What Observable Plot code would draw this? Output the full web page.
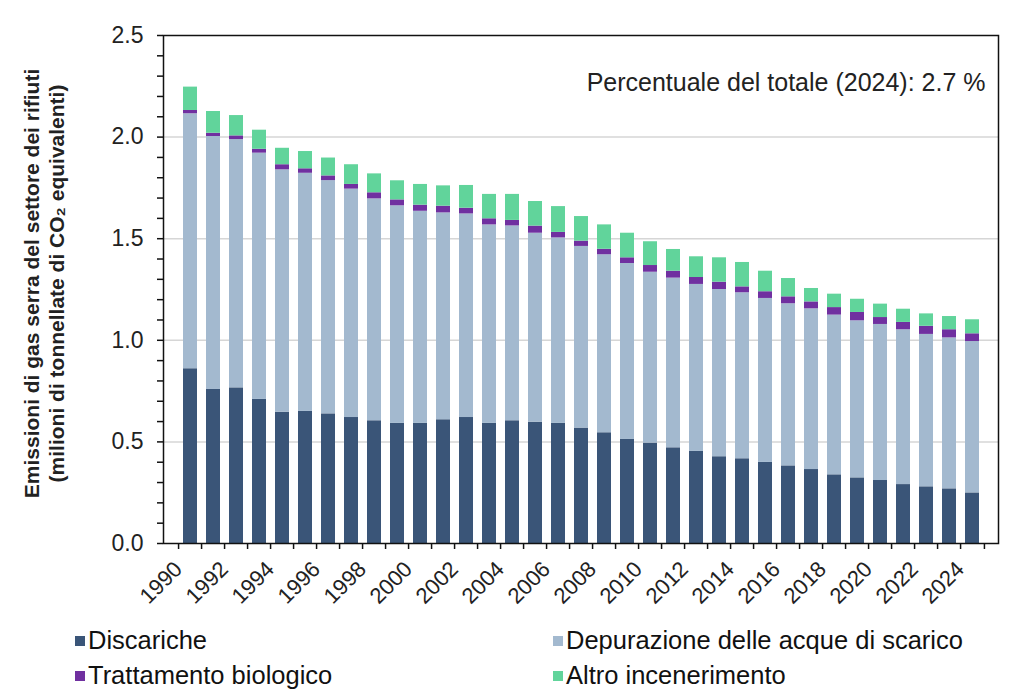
<!DOCTYPE html>
<html><head><meta charset="utf-8">
<script src="https://cdn.jsdelivr.net/npm/d3@7"></script>
<script src="https://cdn.jsdelivr.net/npm/@observablehq/plot@0.6"></script>
<style>
body{margin:0;background:#fff;font-family:"Liberation Sans",Arial,sans-serif;}
#wrap{position:relative;width:1024px;height:697px;overflow:hidden;}
.leg{position:absolute;font-size:25.5px;color:#111;display:flex;align-items:center;white-space:nowrap;line-height:1;}
.sw{width:10px;height:10px;margin-right:3px;display:inline-block;}
</style></head><body><div id="wrap"></div>
<script>
const years = [1990,1991,1992,1993,1994,1995,1996,1997,1998,1999,2000,2001,2002,2003,2004,2005,2006,2007,2008,2009,2010,2011,2012,2013,2014,2015,2016,2017,2018,2019,2020,2021,2022,2023,2024];
const categories = ["Discariche","Depurazione delle acque di scarico","Trattamento biologico","Altro incenerimento"];
const colors = ["#3a5578","#a3b9cf","#7030a0","#61d49b"];
const discariche = [0.860,0.758,0.766,0.709,0.646,0.650,0.638,0.620,0.604,0.591,0.591,0.609,0.620,0.591,0.604,0.597,0.591,0.568,0.545,0.512,0.494,0.471,0.453,0.427,0.417,0.399,0.382,0.364,0.338,0.323,0.310,0.290,0.279,0.269,0.249];
const depurazione = [1.255,1.245,1.222,1.212,1.193,1.172,1.148,1.124,1.092,1.071,1.044,1.018,1.002,0.977,0.959,0.930,0.913,0.894,0.876,0.866,0.841,0.835,0.822,0.823,0.817,0.807,0.798,0.791,0.786,0.773,0.768,0.762,0.750,0.743,0.745];
const trattamento = [0.016,0.016,0.018,0.019,0.025,0.022,0.023,0.023,0.030,0.029,0.030,0.033,0.028,0.030,0.027,0.035,0.027,0.026,0.027,0.028,0.033,0.034,0.034,0.036,0.029,0.033,0.034,0.034,0.037,0.041,0.034,0.036,0.040,0.040,0.038];
const altro = [0.115,0.107,0.100,0.094,0.081,0.085,0.088,0.097,0.093,0.094,0.102,0.100,0.112,0.120,0.128,0.121,0.127,0.121,0.120,0.121,0.117,0.107,0.102,0.120,0.120,0.101,0.090,0.066,0.066,0.065,0.066,0.065,0.061,0.065,0.069];
const yMajor = [0,0.5,1,1.5,2,2.5];
const yMinor = [0,0.1,0.2,0.3,0.4,0.5,0.6,0.7,0.8,0.9,1,1.1,1.2,1.3,1.4,1.5,1.6,1.7,1.8,1.9,2,2.1,2.2,2.3,2.4,2.5];
const xLabels = [1990,1992,1994,1996,1998,2000,2002,2004,2006,2008,2010,2012,2014,2016,2018,2020,2022,2024];
const yTitle1 = "Emissioni di gas serra del settore dei rifiuti";
const yTitle2 = "(milioni di tonnellate di CO₂ equivalenti)";
const note = "Percentuale del totale (2024): 2.7 %";

const series = [discariche, depurazione, trattamento, altro];
const data = [];
years.forEach((yr, i) => categories.forEach((c, k) => data.push({year: yr, cat: c, value: series[k][i]})));

const W = 1024, H = 615, ML = 163, MR = 26, MT = 35, MB = 72;
const step = (W - ML - MR) / years.length;

const chart = Plot.plot({
  width: W, height: H, marginLeft: ML, marginRight: MR, marginTop: MT, marginBottom: MB,
  style: {fontFamily: "'Liberation Sans', Arial, sans-serif", fontSize: "23px", color: "#222", background: "#fff"},
  x: {type: "band", domain: years, paddingInner: 0.4, paddingOuter: 0.2, axis: null},
  y: {domain: [0, 2.5], axis: null},
  color: {domain: categories, range: colors},
  marks: [
    Plot.gridY(yMajor.filter(d => d > 0 && d < 2.5), {stroke: "#d6d6d6", strokeOpacity: 1, strokeWidth: 1.5}),
    Plot.barY(data, {x: "year", y: "value", fill: "cat", order: categories}),
    Plot.frame({stroke: "#111", strokeWidth: 1.5}),
    Plot.axisY(yMinor, {label: null, tickSize: 6, tickPadding: 14, strokeWidth: 1.5, stroke: "#111", tickFormat: d => (Math.round(d * 10) % 5 === 0 ? d3.format(".1f")(d) : ""), fill: "#222"}),
    Plot.axisX(years, {label: null, tickSize: 6, text: null, dx: -step / 2, stroke: "#111", strokeWidth: 1.5}),
    Plot.axisX([years[years.length - 1]], {label: null, tickSize: 6, text: null, dx: step / 2, stroke: "#111", strokeWidth: 1.5}),
    Plot.axisX(xLabels, {label: null, tickSize: 0, tickPadding: 22, dx: -12, tickRotate: -45, fontSize: 22, tickFormat: d => String(d), fill: "#222"}),
    Plot.text([note], {frameAnchor: "top-right", textAnchor: "end", dx: -13, dy: 38, fontSize: 25, fill: "#222"}),
    Plot.text([yTitle1], {frameAnchor: "left", textAnchor: "middle", rotate: -90, dx: -131, dy: -6, fontSize: 21, fontWeight: "bold", fill: "#222"}),
    Plot.text([yTitle2], {frameAnchor: "left", textAnchor: "middle", rotate: -90, dx: -106, dy: -6, fontSize: 21, fontWeight: "bold", fill: "#222"})
  ]
});

const wrap = document.getElementById("wrap");
wrap.appendChild(chart);

const legPos = [[75, 641], [553, 641], [75, 676], [553, 676]];
categories.forEach((c, k) => {
  const d = document.createElement("div");
  d.className = "leg";
  d.style.left = legPos[k][0] + "px";
  d.style.top = (legPos[k][1] - 13) + "px";
  d.style.height = "26px";
  d.innerHTML = `<span class="sw" style="background:${colors[k]}"></span><span>${c}</span>`;
  wrap.appendChild(d);
});
</script></body></html>
